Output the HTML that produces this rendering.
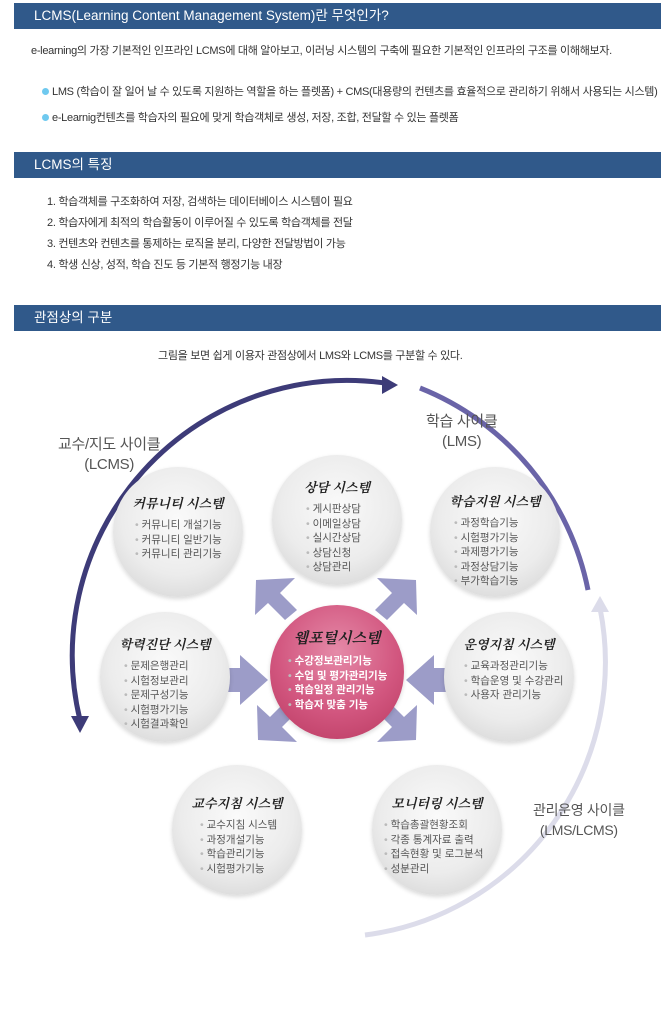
<!DOCTYPE html>
<html><head><meta charset="utf-8"><style>
body{margin:0;width:666px;height:1020px;background:#fff;font-family:"Liberation Sans","Noto Sans CJK KR",sans-serif;position:relative;overflow:hidden;color:#333}
.bar{position:absolute;left:14px;width:647px;height:26px;background:#30598a;color:#fff;font-size:13.5px;line-height:26px;padding-left:20px;box-sizing:border-box}
.t{position:absolute;font-size:11px;white-space:nowrap;letter-spacing:-0.3px}
.dot{display:inline-block;width:7px;height:7px;border-radius:50%;background:#6fc9ef;margin-right:3px}
.c{position:absolute;border-radius:50%;background:radial-gradient(circle at 50% 40%,#fafafa 0%,#ececec 55%,#cfcfcf 100%);box-shadow:0 2px 4px rgba(0,0,0,.15)}
.c h4{margin:0;text-align:center;font-size:13px;font-style:italic;font-family:"Liberation Serif","Noto Serif CJK SC",serif;font-weight:bold;color:#222}
.c ul{list-style:none;margin:6px 0 0;padding:0;font-size:10.5px;line-height:14.5px;color:#555}
.c li:before{content:"• ";color:#bbb}
</style></head><body>
<div class="bar" style="top:3px">LCMS(Learning Content Management System)란 무엇인가?</div>
<div class="t" style="left:31px;top:42px;font-size:11px">e-learning의 가장 기본적인 인프라인 LCMS에 대해 알아보고, 이러닝 시스템의 구축에 필요한 기본적인 인프라의 구조를 이해해보자.</div>
<div class="t" style="left:42px;top:83px"><span class="dot"></span>LMS (학습이 잘 일어 날 수 있도록 지원하는 역할을 하는 플렛폼) + CMS(대용량의 컨텐츠를 효율적으로 관리하기 위해서 사용되는 시스템)</div>
<div class="t" style="left:42px;top:109px"><span class="dot"></span>e-Learnig컨텐츠를 학습자의 필요에 맞게 학습객체로 생성, 저장, 조합, 전달할 수 있는 플렛폼</div>

<div class="bar" style="top:152px">LCMS의 특징</div>
<div class="t" style="left:47px;top:193px">1. 학습객체를 구조화하여 저장, 검색하는 데이터베이스 시스템이 필요</div>
<div class="t" style="left:47px;top:214px">2. 학습자에게 최적의 학습활동이 이루어질 수 있도록 학습객체를 전달</div>
<div class="t" style="left:47px;top:235px">3. 컨텐츠와 컨텐츠를 통제하는 로직을 분리, 다양한 전달방법이 가능</div>
<div class="t" style="left:47px;top:256px">4. 학생 신상, 성적, 학습 진도 등 기본적 행정기능 내장</div>

<div class="bar" style="top:305px">관점상의 구분</div>
<div class="t" style="left:158px;top:347px">그림을 보면 쉽게 이용자 관점상에서 LMS와 LCMS를 구분할 수 있다.</div>

<svg style="position:absolute;left:0;top:0" width="666" height="1020">
<path d="M385 383 A275 275 0 0 0 80 720" fill="none" stroke="#3d3b78" stroke-width="5"/>
<polygon points="398,385 382,376 382,394" fill="#3d3b78"/>
<polygon points="80,733 71,716 89,716" fill="#3d3b78"/>
<path d="M420 388 A275 275 0 0 1 588 590" fill="none" stroke="#6a64a8" stroke-width="5"/>
<path d="M365 935 A275 275 0 0 0 600 608" fill="none" stroke="#dcdcea" stroke-width="5"/>
<polygon points="600,596 591,612 609,612" fill="#dcdcea"/>
<g fill="#9c9cc8">
<polygon points="256,580 295,578 280,593 297,610 285,620 268,603 255,615"/>
<polygon points="416,580 377,578 392,593 375,610 387,620 404,603 417,615"/>
<polygon points="258,740 297,742 282,727 299,710 287,700 270,717 257,705"/>
<polygon points="416,740 377,742 392,727 375,710 387,700 404,717 417,705"/>
<polygon points="268,680 240,655 240,668 228,668 228,692 240,692 240,705"/>
<polygon points="406,680 434,655 434,668 446,668 446,692 434,692 434,705"/>
</g>
</svg>
<div class="t" style="left:58px;top:435px;font-size:15px;color:#555;text-align:center;line-height:20px">교수/지도 사이클<br>(LCMS)</div>
<div class="t" style="left:426px;top:412px;font-size:15px;color:#555;text-align:center;line-height:20px">학습 사이클<br>(LMS)</div>
<div class="t" style="left:533px;top:800px;font-size:14px;color:#555;text-align:center;line-height:20px">관리운영 사이클<br>(LMS/LCMS)</div>

<div class="c" style="left:113px;top:467px;width:130px;height:130px"><h4 style="margin-top:26px">커뮤니티 시스템</h4><ul style="margin-left:22px"><li>커뮤니티 개설기능</li><li>커뮤니티 일반기능</li><li>커뮤니티 관리기능</li></ul></div>
<div class="c" style="left:272px;top:455px;width:130px;height:130px"><h4 style="margin-top:22px">상담 시스템</h4><ul style="margin-left:34px"><li>게시판상담</li><li>이메일상담</li><li>실시간상담</li><li>상담신청</li><li>상담관리</li></ul></div>
<div class="c" style="left:430px;top:467px;width:130px;height:130px"><h4 style="margin-top:24px">학습지원 시스템</h4><ul style="margin-left:24px"><li>과정학습기능</li><li>시험평가기능</li><li>과제평가기능</li><li>과정상담기능</li><li>부가학습기능</li></ul></div>
<div class="c" style="left:100px;top:612px;width:130px;height:130px"><h4 style="margin-top:22px">학력진단 시스템</h4><ul style="margin-left:24px"><li>문제은행관리</li><li>시험정보관리</li><li>문제구성기능</li><li>시험평가기능</li><li>시험결과확인</li></ul></div>
<div class="c" style="left:270px;top:605px;width:134px;height:134px;background:radial-gradient(circle at 50% 35%,#e58aa8 0%,#d2567f 55%,#b8385f 100%)"><h4 style="margin-top:22px;color:#222;font-size:15px">웹포털시스템</h4><ul style="margin-left:18px;color:#fff;font-weight:bold;font-size:10.5px"><li style="color:#fff">수강정보관리기능</li><li>수업 및 평가관리기능</li><li>학습일정 관리기능</li><li>학습자 맞춤 기능</li></ul></div>
<div class="c" style="left:444px;top:612px;width:130px;height:130px"><h4 style="margin-top:22px">운영지침 시스템</h4><ul style="margin-left:20px"><li>교육과정관리기능</li><li>학습운영 및 수강관리</li><li>사용자 관리기능</li></ul></div>
<div class="c" style="left:172px;top:765px;width:130px;height:130px"><h4 style="margin-top:28px">교수지침 시스템</h4><ul style="margin-left:28px"><li>교수지침 시스템</li><li>과정개설기능</li><li>학습관리기능</li><li>시험평가기능</li></ul></div>
<div class="c" style="left:372px;top:765px;width:130px;height:130px"><h4 style="margin-top:28px">모니터링 시스템</h4><ul style="margin-left:12px"><li>학습총괄현황조회</li><li>각종 통계자료 출력</li><li>접속현황 및 로그분석</li><li>성분관리</li></ul></div>
</body></html>
